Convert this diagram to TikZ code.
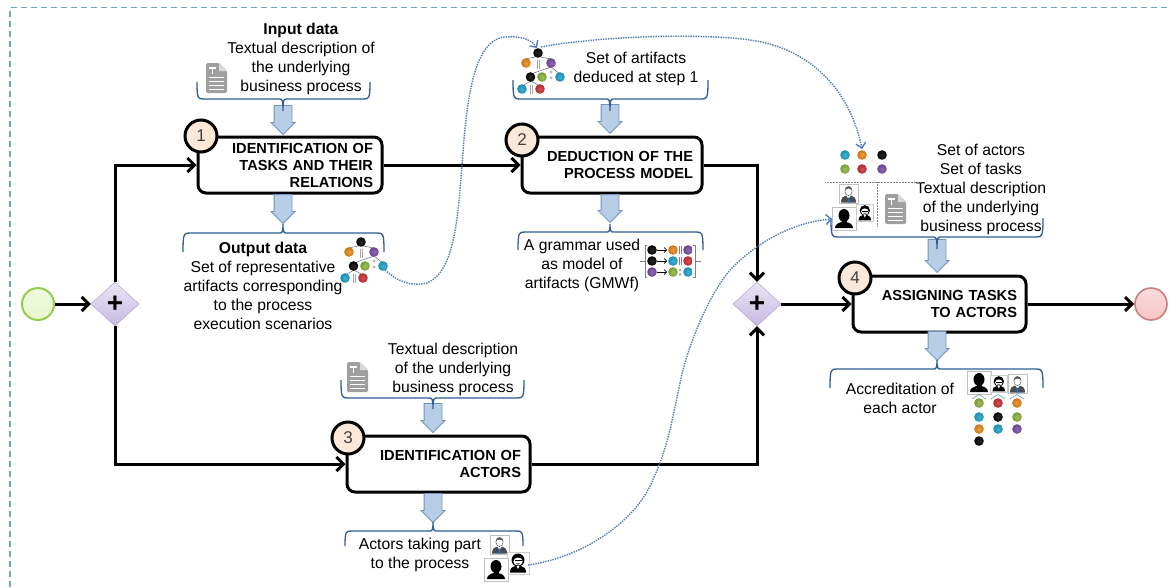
\documentclass[tikz,border=0pt]{standalone}
\usepackage{fontspec}
\setmainfont{Liberation Sans}
\usetikzlibrary{positioning,calc,arrows.meta,shapes.geometric,shapes.arrows}
\definecolor{ballorange}{HTML}{EE8A18}
\definecolor{ballpurple}{HTML}{7D4FA8}
\definecolor{ballgreen}{HTML}{8DB63C}
\definecolor{ballcyan}{HTML}{1FA5CC}
\definecolor{ballred}{HTML}{CF3238}
\definecolor{ballblack}{HTML}{050505}
\definecolor{bracecol}{HTML}{2F5D94}
\definecolor{dotcol}{HTML}{4F7DB8}
\definecolor{arrowfill}{HTML}{B8CDE6}
\definecolor{arrowline}{HTML}{6E93BF}
\definecolor{borderline}{HTML}{6FA8B8}
\definecolor{gatetop}{HTML}{EAE5F5}
\definecolor{gatebot}{HTML}{C7BAE2}
\definecolor{gateline}{HTML}{A898C8}
\definecolor{numfill}{HTML}{FCE8D9}
\definecolor{startfill}{HTML}{E6F7CB}
\definecolor{startline}{HTML}{96CB52}
\definecolor{stopfill}{HTML}{F6C4C4}
\definecolor{stopline}{HTML}{C77F7F}
\newcommand{\artball}[3]{\shade[inner color=ball#1!85!white,outer color=ball#1!85!black] (#2,#3) circle[radius=4.8];}
\newcommand{\procbrace}[6]{\draw[procbrace] (#1,#3) .. controls (#1,#4) and (#1+1,#4) .. (#1+7,#4) -- (#5-4,#4) .. controls (#5-1,#4) and (#5,#4) .. (#5,#6) .. controls (#5,#4) and (#5+1,#4) .. (#5+4,#4) -- (#2-7,#4) .. controls (#2-1,#4) and (#2,#4) .. (#2,#3);}
\tikzset{>=stealth,
  flow/.style={line width=3pt,-{Straight Barb[length=7pt,width=14pt]}},
  dotflow/.style={dotcol,line width=1.4pt,dash pattern=on 1.4pt off 1.1pt,-{Straight Barb[length=5pt,width=10pt]}},
  procbrace/.style={bracecol,line width=1.3pt},
  tasknode/.style={draw,line width=3pt,rounded corners=8pt,fill=white,align=right,
    inner xsep=9pt,inner ysep=0pt,text width=#1,minimum height=56pt,
    font=\fontsize{14.6}{17}\selectfont\bfseries},
  numnode/.style={circle,draw,line width=3pt,fill=numfill,minimum size=32pt,inner sep=0pt,
    text=black!75,font=\fontsize{17}{17}\selectfont},
  gatenode/.style={diamond,draw=gateline,top color=gatetop,bottom color=gatebot,
    minimum width=48pt,minimum height=44pt,inner sep=0pt,
    font=\fontsize{28}{28}\selectfont\bfseries},
  blockarrow/.style={single arrow,draw=arrowline,fill=arrowfill,shape border rotate=270,line width=.8pt,
    single arrow head extend=3pt,minimum height=#1,inner sep=0pt,anchor=tip},
  lbl/.style={align=center,inner sep=0pt,font=\fontsize{15.7}{19}\selectfont},
  artifacttree/.pic={
    \draw[black!70,line width=.4pt] (-13,6) -- (0,3.5) -- (13,6);
    \draw[black!70,line width=.4pt] (-7,21) -- (13,14) -- (22,21);
    \draw[black!70,line width=.4pt] (-16,33) -- (-7,28) -- (2,33);
    \draw[gray!70,line width=.8pt] (-1,7) -- (-1,16) (1,7) -- (1,16) (-8,32) -- (-8,41) (-6,32) -- (-6,41);
    \draw[gray!70,line width=.5pt] (13,19) circle[radius=1.3] (13,25) circle[radius=1.3];
    \artball{black}{0}{0}\artball{orange}{-12}{10}\artball{purple}{13}{10}
    \artball{black}{-7.5}{24}\artball{green}{4}{24}\artball{cyan}{22}{24}
    \artball{cyan}{-16}{36}\artball{red}{2}{36}
  },
  grammaricon/.pic={
    \draw[gray,line width=.6pt] (-5,-16) -- (-7,-16) -- (-7,16) -- (-5,16) (-7,0) -- (-12,0);
    \draw[gray,line width=.6pt] (41,-16) -- (43,-16) -- (43,16) -- (41,16) (43,0) -- (49,0);
    \foreach \rowy/\balla/\ballb/\ballc in {-11/black/orange/purple,0/black/cyan/red,11/purple/green/cyan}{
      \artball{\balla}{0}{\rowy}\artball{\ballb}{21}{\rowy}\artball{\ballc}{36}{\rowy}
      \draw[line width=.7pt,-{Straight Barb[length=2.5pt,width=5pt]}] (5,\rowy) -- (15,\rowy);
    }
    \draw[gray,line width=.6pt] (27,-15) -- (27,-7) (29,-15) -- (29,-7) (27,-4) -- (27,4) (29,-4) -- (29,4);
    \draw[gray,line width=.4pt] (28,9) circle[radius=1.2] (28,13.5) circle[radius=1.2];
  },
  docicon/.pic={
    \fill[gray!75,rounded corners=1.5pt] (0,0) -- (13,0) -- (21,8) -- (21,30) -- (0,30) -- cycle;
    \fill[gray!30] (13,0) -- (21,8) -- (13,8) -- cycle;
    \draw[white,line width=1.6pt] (3,5) -- (10,5) (6.5,5) -- (6.5,11);
    \draw[white,line width=1pt] (3,14) -- (18,14) (3,18) -- (18,18) (3,22) -- (18,22) (3,26) -- (18,26);
  },
  manicon/.pic={
    \draw[gray!50,fill=white,line width=.5pt] (0,0) rectangle (19,19);
    \fill[black!70] (2,18.5) .. controls (2,14) and (4,12) .. (7,11.5) -- (12,11.5) .. controls (15,12) and (17,14) .. (17,18.5) -- cycle;
    \fill[white] (7,11) -- (12,11) -- (9.5,15) -- cycle;
    \fill[blue!50!cyan] (9.5,12.5) -- (10.5,18.5) -- (8.5,18.5) -- cycle;
    \draw[black!60,fill=white,line width=.5pt] (9.5,7) ellipse[x radius=3.6,y radius=4.6];
    \fill[black!65] (5.9,6.5) .. controls (5.5,1) and (13.5,1) .. (13.1,6.5) .. controls (12,4) and (7,4) .. (5.9,6.5) -- cycle;
  },
  womanicon/.pic={
    \draw[gray!50,fill=white,line width=.5pt] (0,0) rectangle (24,23);
    \fill[black] (12,8.5) ellipse[x radius=5.5,y radius=6.5];
    \fill[black] (9.5,12) rectangle (14.5,17);
    \fill[black] (3,21) .. controls (3,17) and (7,15.5) .. (10,15) -- (14,15) .. controls (17,15.5) and (21,17) .. (21,21) -- cycle;
  },
  maskicon/.pic={
    \draw[gray!40,fill=white,line width=.5pt] (0,0) rectangle (22,22);
    \fill[black] (11,8) circle[radius=6.5];
    \fill[white] (11,9.5) ellipse[x radius=4.6,y radius=4];
    \draw[black,line width=.5pt] (7.5,8.5) -- (14.5,8.5);
    \fill[black!55] (8.5,11) -- (13.5,11) -- (11,13) -- cycle;
    \fill[black] (3,20.5) .. controls (3,16.5) and (5,14.5) .. (8,14) -- (14,14) .. controls (17,14.5) and (19,16.5) .. (19,20.5) -- cycle;
    \fill[white] (9.5,14) -- (12.5,14) -- (11,17) -- cycle;
  }
}
\begin{document}
\begin{tikzpicture}[x=1pt,y=-1pt]
\useasboundingbox (0,0) rectangle (1170,587);
\fill[white] (0,0) rectangle (1170,587);
\draw[borderline,line width=1.5pt,dash pattern=on 6.5pt off 3.5pt] (10,587) -- (10,7.5) -- (1170,7.5);
\node[circle,draw=startline,top color=startfill!60!white,bottom color=startfill,line width=2pt,minimum size=32pt,inner sep=0pt] (start) at (38,304) {};
\node[circle,draw=stopline,top color=stopfill!60!white,bottom color=stopfill,line width=1.6pt,minimum size=32pt,inner sep=0pt] (stop) at (1151,304) {};
\node[gatenode] (gate1) at (115,304) {+};
\node[gatenode] (gate2) at (757,304) {+};
\node[tasknode=166pt] (task1) at (290,165) {IDENTIFICATION OF\\TASKS AND THEIR\\RELATIONS};
\node[tasknode=162pt] (task2) at (612,165) {DEDUCTION OF THE\\PROCESS MODEL};
\node[tasknode=165pt] (task3) at (438.5,464) {IDENTIFICATION OF\\ACTORS};
\node[tasknode=155pt] (task4) at (939.5,304) {ASSIGNING TASKS\\TO ACTORS};
\node[numnode] (num1) at (201,136) {1};
\node[numnode] (num2) at (522,140) {2};
\node[numnode] (num3) at (348,438) {3};
\node[numnode] (num4) at (855,278) {4};
\draw[flow] (start) -- (gate1);
\draw[flow] (gate1) |- (task1);
\draw[flow] (gate1) |- (task3);
\draw[flow] (task1) -- (task2);
\draw[flow] (task2) -| (gate2);
\draw[flow] (task3) -| (gate2);
\draw[flow] (gate2) -- (task4);
\draw[flow] (task4) -- (stop);
\node[blockarrow=29pt] (in1) at (283,135) {\rule{17pt}{0pt}};
\node[blockarrow=29pt] (out1) at (283,224) {\rule{17pt}{0pt}};
\node[blockarrow=29pt] (in2) at (610,134) {\rule{17pt}{0pt}};
\node[blockarrow=28pt] (out2) at (610,223) {\rule{17pt}{0pt}};
\node[blockarrow=33pt] (in4) at (937,273) {\rule{17pt}{0pt}};
\node[blockarrow=29pt] (out4) at (937,361) {\rule{17pt}{0pt}};
\node[blockarrow=29pt] (in3) at (433,433) {\rule{17pt}{0pt}};
\node[blockarrow=29pt] (out3) at (433,523) {\rule{17pt}{0pt}};
\procbrace{197}{370}{82}{99}{283}{111}
\procbrace{183}{384}{252}{233}{283}{224}
\procbrace{513}{708}{80}{99}{610}{111}
\procbrace{518}{703}{250}{232}{610}{224}
\procbrace{831}{1043}{218}{237}{937}{249}
\procbrace{830}{1043}{388}{369}{937}{360}
\procbrace{341}{524}{380}{398}{433}{409}
\procbrace{345}{523}{546}{531}{433}{522}
\node[lbl] (inputtext) at (301,58.5) {\textbf{Input data}\\Textual description of\\the underlying\\business process};
\node[lbl] (outputtext) at (263,286) {\textbf{Output data}\\Set of representative\\artifacts corresponding\\to the process\\execution scenarios};
\node[lbl] (settext) at (636,68.5) {Set of artifacts\\deduced at step 1};
\node[lbl] (gmwftext) at (582,265.5) {A grammar used\\as model of\\artifacts (GMWf)};
\node[lbl] (actortext) at (981,189) {Set of actors\\Set of tasks\\Textual description\\of the underlying\\business process};
\node[lbl] (accredtext) at (900,398.5) {Accreditation of\\each actor};
\node[lbl] (desctext) at (453,369) {Textual description\\of the underlying\\business process};
\node[lbl] (parttext) at (420,554.5) {Actors taking part\\to the process};
\pic at (206,63) {docicon};
\pic at (347,362) {docicon};
\pic at (885,194) {docicon};
\pic at (361,242) {artifacttree};
\pic at (538,53) {artifacttree};
\pic at (652,261) {grammaricon};
\artball{cyan}{845}{155}\artball{orange}{862}{155}\artball{black}{882}{155}
\artball{green}{845}{169}\artball{red}{862}{169}\artball{purple}{882}{169}
\draw[gray,line width=.5pt,densely dotted] (825,182) -- (920,182) (877,182) -- (877,226);
\pic at (839,184) {manicon};
\pic at (832,207) {womanicon};
\pic[scale=.8] at (856,204) {maskicon};
\pic at (490,535) {manicon};
\pic at (507,552) {maskicon};
\pic at (484,558) {womanicon};
\pic at (967,371) {womanicon};
\pic[scale=.8] at (990,375) {maskicon};
\pic at (1008,374) {manicon};
\draw[arrowline,line width=.6pt] (972,399) -- (979,394.5) -- (986,399) (991,399) -- (998,394.5) -- (1005,399) (1010,399) -- (1017,394.5) -- (1024,399);
\artball{green}{979}{403}\artball{cyan}{979}{417}\artball{orange}{979}{429}\artball{black}{979}{441}
\artball{red}{998}{403}\artball{black}{998}{417}\artball{cyan}{998}{429}
\artball{orange}{1017}{403}\artball{green}{1017}{417}\artball{purple}{1017}{429}
\coordinate (treeout) at (385,270);
\coordinate (treein) at (537,48);
\coordinate (setout) at (541,47);
\coordinate (setin) at (862,149);
\coordinate (partout) at (528,565);
\coordinate (setactors) at (832,219);
\draw[dotflow] (treeout) .. controls (400,284) and (415,286) .. (427,283) .. controls (455,272) and (458,215) .. (462,165) .. controls (466,115) and (470,40) .. (505,37) .. controls (518,36) and (530,38) .. (treein);
\draw[dotflow] (setout) .. controls (600,36) and (700,33) .. (750,40) .. controls (810,48) and (850,90) .. (setin);
\draw[dotflow] (partout) .. controls (580,558) and (630,525) .. (649,488) .. controls (668,450) and (672,420) .. (680,383) .. controls (690,335) and (715,285) .. (733,267) .. controls (760,240) and (795,222) .. (setactors);
\end{tikzpicture}
\end{document}
